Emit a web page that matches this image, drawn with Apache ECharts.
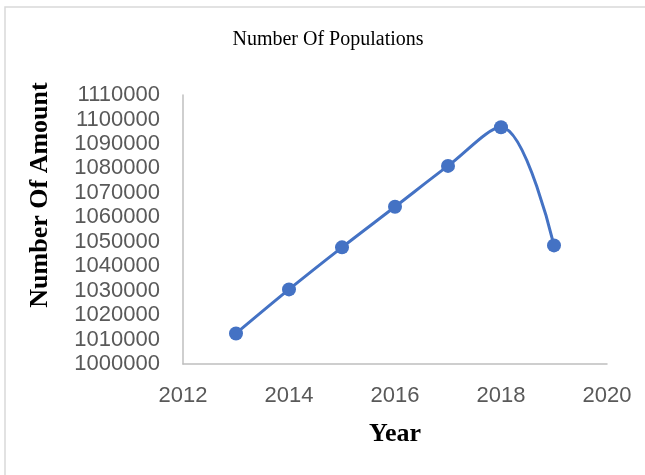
<!DOCTYPE html>
<html>
<head>
<meta charset="utf-8">
<script src="https://cdn.jsdelivr.net/npm/echarts@6/dist/echarts.min.js"></script>
<style>
  html, body { margin: 0; padding: 0; background: #ffffff; }
  #chart { width: 645px; height: 475px; }
</style>
</head>
<body>
<div id="chart"></div>
<script>
// Population per year
const years = [2013, 2014, 2015, 2016, 2017, 2018, 2019];
const population = [1012500, 1030500, 1047700, 1064300, 1081000, 1096800, 1048500];

const chartTitle = 'Number Of Populations';
const xTitle = 'Year';
const yTitle = 'Number Of Amount';

const chart = echarts.init(document.getElementById('chart'));

// plain integer labels, no thousands separators
const plain = v => String(v);

chart.setOption({
  backgroundColor: '#ffffff',
  animation: false,
  grid: { left: 183, right: 38, top: 95, bottom: 111 },
  xAxis: {
    type: 'value',
    min: 2012,
    max: 2020,
    interval: 2,
    axisLine: { show: true, lineStyle: { color: '#BFBFBF', width: 1.5 } },
    axisTick: { show: false },
    splitLine: { show: false },
    axisLabel: {
      color: '#595959',
      fontFamily: 'Liberation Sans',
      fontSize: 22,
      margin: 21,
      formatter: plain
    }
  },
  yAxis: {
    type: 'value',
    min: 1000000,
    max: 1110000,
    interval: 10000,
    axisLine: { show: true, lineStyle: { color: '#BFBFBF', width: 1.5 } },
    axisTick: { show: false },
    splitLine: { show: false },
    axisLabel: {
      color: '#595959',
      fontFamily: 'Liberation Sans',
      fontSize: 22,
      margin: 23,
      formatter: plain
    }
  },
  series: [{
    type: 'line',
    data: years.map((y, i) => [y, population[i]]),
    smooth: 0.35,
    symbol: 'circle',
    symbolSize: 14,
    lineStyle: { color: '#4472C4', width: 3 },
    itemStyle: { color: '#4472C4' }
  }],
  graphic: [
    {
      type: 'rect',
      shape: { x: 5, y: 7, width: 700, height: 500 },
      style: { fill: 'none', stroke: '#D9D9D9', lineWidth: 1.5 },
      silent: true,
      z: -1
    },
    {
      type: 'text',
      x: 328,
      y: 40,
      style: {
        text: chartTitle,
        fontFamily: 'Liberation Serif',
        fontSize: 20,
        fill: '#000000',
        align: 'center',
        verticalAlign: 'middle'
      }
    },
    {
      type: 'text',
      x: 395,
      y: 434,
      style: {
        text: xTitle,
        fontFamily: 'Liberation Serif',
        fontWeight: 'bold',
        fontSize: 26,
        fill: '#000000',
        align: 'center',
        verticalAlign: 'middle'
      }
    },
    {
      type: 'text',
      x: 40,
      y: 195,
      rotation: Math.PI / 2,
      style: {
        text: yTitle,
        fontFamily: 'Liberation Serif',
        fontWeight: 'bold',
        fontSize: 26,
        fill: '#000000',
        align: 'center',
        verticalAlign: 'middle'
      }
    }
  ]
});
</script>
</body>
</html>
